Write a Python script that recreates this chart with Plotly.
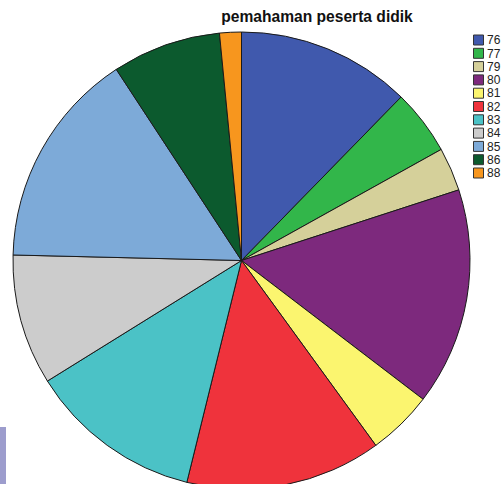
import plotly.graph_objects as go

categories = ["76", "77", "79", "80", "81", "82", "83", "84", "85", "86", "88"]
counts = [8, 3, 2, 10, 3, 9, 8, 6, 10, 5, 1]
colors = ["#4059AD", "#32B64A", "#D5D09A", "#7D297D", "#FBF56F", "#EF333C",
          "#4BC2C6", "#CCCCCC", "#7DAAD8", "#0C5A2E", "#F7961E"]
title_text = "pemahaman peserta didik"

W, H = 501, 500
ML, MT, SIDE = 13, 32, 457
MR = W - ML - SIDE
MB = H - MT - SIDE


def px_x(p):
    return (p - ML) / SIDE


def px_y(p):
    return 1 - (p - MT) / SIDE


fig = go.Figure(go.Pie(
    labels=categories,
    values=counts,
    marker=dict(colors=colors, line=dict(color="#1a1a1a", width=1)),
    sort=False,
    direction="clockwise",
    rotation=0,
    textinfo="none",
    hoverinfo="label+value",
    showlegend=False,
))

shapes = []
annotations = []
for i, (cat, col) in enumerate(zip(categories, colors)):
    top = 35 + i * 13.3
    shapes.append(dict(type="rect", xref="paper", yref="paper",
                       x0=px_x(473.5), x1=px_x(483.5),
                       y0=px_y(top + 10), y1=px_y(top),
                       fillcolor=col, line=dict(color="#333333", width=1)))
    annotations.append(dict(xref="paper", yref="paper", x=px_x(485.5), y=px_y(top + 5.3),
                            text=cat, showarrow=False, xanchor="left", yanchor="middle",
                            font=dict(family="Liberation Sans, Arial", size=12, color="#222222")))

# lavender strip at bottom-left edge
shapes.append(dict(type="rect", xref="paper", yref="paper",
                   x0=px_x(0), x1=px_x(6), y0=px_y(H), y1=px_y(427),
                   fillcolor="#9D9DCD", line=dict(width=0), layer="below"))

fig.update_layout(
    width=W, height=H,
    margin=dict(l=ML, r=MR, t=MT, b=MB),
    paper_bgcolor="white",
    plot_bgcolor="white",
    title=dict(text="<b>" + title_text + "</b>", xref="container", yref="container",
               x=317 / W, y=1 - 17 / H, xanchor="center", yanchor="middle",
               font=dict(family="Liberation Sans, Arial", size=15.6, color="#111111")),
    shapes=shapes,
    annotations=annotations,
)

fig.write_html("out.html",
               post_script="document.documentElement.style.overflow='hidden';document.body.style.overflow='hidden';document.body.style.margin='0';")
